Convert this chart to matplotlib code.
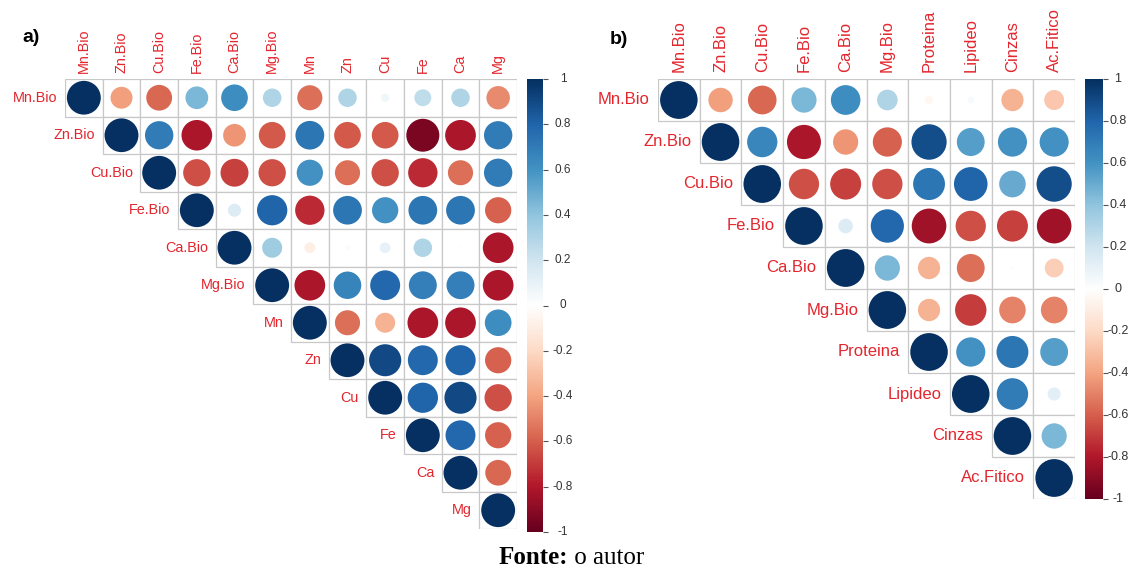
import numpy as np
import matplotlib
matplotlib.use("Agg")
import matplotlib.pyplot as plt
from matplotlib.colors import LinearSegmentedColormap
from matplotlib.patches import Circle, Rectangle

# DADOS

vars_a = ["Mn.Bio", "Zn.Bio", "Cu.Bio", "Fe.Bio", "Ca.Bio", "Mg.Bio",
          "Mn", "Zn", "Cu", "Fe", "Ca", "Mg"]

# linhas do triângulo superior (começando na diagonal)
corr_a = [
    [1, -0.42, -0.58, 0.45, 0.62, 0.30, -0.55, 0.30, 0.06, 0.25, 0.30, -0.48],
    [1, 0.70, -0.82, -0.45, -0.62, 0.72, -0.62, -0.62, -0.95, -0.82, 0.70],
    [1, -0.65, -0.68, -0.65, 0.60, -0.55, -0.65, -0.75, -0.55, 0.70],
    [1, 0.15, 0.80, -0.75, 0.72, 0.60, 0.72, 0.72, -0.60],
    [1, 0.35, -0.10, 0.02, 0.10, 0.30, 0.01, -0.82],
    [1, -0.82, 0.66, 0.78, 0.68, 0.68, -0.82],
    [1, -0.55, -0.35, -0.82, -0.82, 0.62],
    [1, 0.90, 0.78, 0.80, -0.60],
    [1, 0.80, 0.90, -0.65],
    [1, 0.78, -0.60],
    [1, -0.58],
    [1],
]

vars_b = ["Mn.Bio", "Zn.Bio", "Cu.Bio", "Fe.Bio", "Ca.Bio", "Mg.Bio",
          "Proteina", "Lipideo", "Cinzas", "Ac.Fitico"]

corr_b = [
    [1, -0.42, -0.58, 0.45, 0.62, 0.30, -0.05, 0.03, -0.35, -0.28],
    [1, 0.65, -0.82, -0.45, -0.60, 0.88, 0.55, 0.60, 0.60],
    [1, -0.65, -0.68, -0.65, 0.72, 0.80, 0.50, 0.88],
    [1, 0.15, 0.78, -0.85, -0.65, -0.68, -0.85],
    [1, 0.45, -0.35, -0.55, 0.01, -0.25],
    [1, -0.35, -0.70, -0.50, -0.50],
    [1, 0.60, 0.72, 0.55],
    [1, 0.70, 0.12],
    [1, 0.45],
    [1],
]

cbar_ticks = [-1, -0.8, -0.6, -0.4, -0.2, 0, 0.2, 0.4, 0.6, 0.8, 1]
cbar_labels = ["-1", "-0.8", "-0.6", "-0.4", "-0.2", "0",
               "0.2", "0.4", "0.6", "0.8", "1"]

# CONFIGURAÇÃO

W, H = 1136, 571
COR_TEXTO = "#E3262E"
cmap = LinearSegmentedColormap.from_list(
    "corrplot_rdbu",
    ["#67001F", "#B2182B", "#D6604D", "#F4A582", "#FDDBC7", "#FFFFFF",
     "#D1E5F0", "#92C5DE", "#4393C3", "#2166AC", "#053061"],
    N=200
)

plt.rcParams["font.family"] = ["Liberation Sans", "DejaVu Sans"]

fig = plt.figure(figsize=(W / 100, H / 100), dpi=100)


def eixo_px(x0, y0, x1, y1):
    return fig.add_axes([x0 / W, 1 - y1 / H, (x1 - x0) / W, (y1 - y0) / H])


def painel(nomes, linhas, caixa, caixa_cbar, fs_label, fs_cbar, x_rotulo):
    n = len(nomes)
    ax = eixo_px(*caixa)
    ax.set_xlim(0, n)
    ax.set_ylim(n, 0)
    ax.axis("off")

    for i in range(n):
        for k, r in enumerate(linhas[i]):
            j = i + k
            ax.add_patch(Rectangle((j, i), 1, 1, facecolor="white",
                                   edgecolor="#C8C8C8", linewidth=0.9))
            raio = 0.45 * np.sqrt(abs(r))
            ax.add_patch(Circle((j + 0.5, i + 0.5), raio,
                                facecolor=cmap((r + 1) / 2),
                                edgecolor="none"))

    for j, nome in enumerate(nomes):
        ax.text(j + 0.5, -0.17, nome, rotation=90, ha="center",
                va="bottom", color=COR_TEXTO, fontsize=fs_label,
                clip_on=False)
    for i, nome in enumerate(nomes):
        ax.text(i - 0.2, i + 0.5, nome, ha="right", va="center",
                color=COR_TEXTO, fontsize=fs_label, clip_on=False)

    # barra de cores
    cax = eixo_px(*caixa_cbar)
    grad = np.linspace(1, -1, 400).reshape(-1, 1)
    cax.imshow(grad, cmap=cmap, vmin=-1, vmax=1, aspect="auto",
               extent=[0, 1, -1, 1])
    cax.set_xticks([])
    cax.yaxis.tick_right()
    cax.set_yticks(cbar_ticks)
    cax.set_yticklabels([])
    cax.tick_params(axis="y", length=3.5, width=0.8, color="#555555")
    for s in cax.spines.values():
        s.set_visible(False)

    y_top, y_bot = caixa_cbar[1], caixa_cbar[3]
    for v, lab in zip(cbar_ticks, cbar_labels):
        y_px = y_top + (1 - v) / 2 * (y_bot - y_top)
        fig.text(x_rotulo / W, 1 - y_px / H, lab, fontsize=fs_cbar,
                 color="#333333", ha="center", va="center")
    return ax


painel(vars_a, corr_a, (65, 79, 517, 529), (527, 79, 543, 532), 10.4, 8.5, 563)
painel(vars_b, corr_b, (658, 79, 1075, 499), (1085, 79, 1103, 499), 12, 9, 1118)

fig.text(22 / W, 1 - 38 / H, "a)", fontsize=14, fontweight="bold",
         va="center", ha="left")
fig.text(610 / W, 1 - 40 / H, "b)", fontsize=14, fontweight="bold",
         va="center", ha="left")

# RODAPÉ
fig.text(0.5, 1 - 558 / H, "Fonte:", fontsize=18, fontweight="bold",
         family="Liberation Serif", ha="right", va="center")
fig.text(0.5, 1 - 558 / H, " o autor", fontsize=18,
         family="Liberation Serif", ha="left", va="center")

fig.savefig("out.png", dpi=100)
